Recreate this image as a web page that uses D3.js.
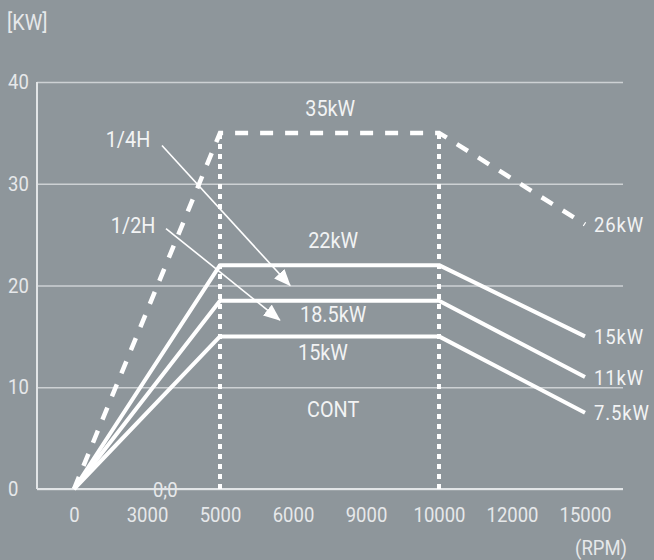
<!DOCTYPE html>
<html>
<head>
<meta charset="utf-8">
<script src="https://cdn.jsdelivr.net/npm/d3@7"></script>
<style>
  html, body { margin: 0; padding: 0; background: #8e969b; }
  svg { display: block; font-family: Roboto, "Liberation Sans", sans-serif; }
  /* the reference uses a condensed face: squeeze Roboto a little */
  text { transform-box: fill-box; transform-origin: center; transform: scaleX(0.88); }
  text.left { transform-origin: left; }
  text.right { transform-origin: right; }
</style>
</head>
<body>
<div id="chart"></div>
<script>
// ─── Data ───
var rpmTicks = ['0', '3000', '5000', '6000', '9000', '10000', '12000', '15000'];
var kwTicks = [0, 10, 20, 30, 40];

// power curves: [rpm, kW]
var peakRpm = ['0', '5000', '10000', '15000'];
var peak35 = [0, 35, 35, 26];
var quarterH = [0, 22, 22, 15];
var halfH = [0, 18.5, 18.5, 11];
var contPow = [0, 15, 15, 7.5];

var limitRpm = ['5000', '10000'];
var limitKw = 35;

var endLabels = ['26kW', '15kW', '11kW', '7.5kW'];
var flatLabels = ['35kW', '22kW', '18.5kW', '15kW', 'CONT'];

// ─── Chart ───
var W = 654, H = 560;
var pLeft = 37, pRight = 623, pTop = 82, pBottom = 489;
var C = { bg: '#8e969b', grid: '#cdd1d4', axis: '#e2e5e7', line: '#ffffff', text: '#f2f3f4', tick: '#e6e8ea' };
var FS = '21px', FA = '22.5px';

var svg = d3.select('#chart').append('svg').attr('width', W).attr('height', H);
svg.append('rect').attr('width', W).attr('height', H).attr('fill', C.bg);

var x = d3.scalePoint().domain(rpmTicks).range([74, 585]);
var y = d3.scaleLinear().domain([0, 40]).range([pBottom, pTop]);
// position between categories, for annotations
function xAt(i) { return x.range()[0] + i * x.step(); }

// y grid + labels
var gy = svg.append('g').attr('transform', 'translate(' + pLeft + ',0)')
  .call(d3.axisLeft(y).tickValues(kwTicks).tickSize(-(pRight - pLeft)).tickFormat(d3.format('d')));
gy.select('.domain').remove();
gy.selectAll('.tick line').attr('stroke', C.grid).attr('stroke-width', 1.5);
gy.selectAll('.tick text').attr('class', 'left').attr('x', 8 - pLeft).attr('text-anchor', 'start').attr('fill', C.tick)
  .attr('font-size', FS).attr('font-family', 'Roboto');

// x labels
var gx = svg.append('g').attr('transform', 'translate(0,' + pBottom + ')')
  .call(d3.axisBottom(x).tickSize(0).tickPadding(18));
gx.select('.domain').remove();
gx.selectAll('.tick text').attr('fill', C.tick).attr('font-size', FS).attr('font-family', 'Roboto');

// axis lines
svg.append('line').attr('x1', pLeft).attr('x2', pLeft).attr('y1', pTop).attr('y2', pBottom)
  .attr('stroke', C.axis).attr('stroke-width', 2);
svg.append('line').attr('x1', pLeft).attr('x2', pRight).attr('y1', pBottom).attr('y2', pBottom)
  .attr('stroke', C.axis).attr('stroke-width', 2);

// unit labels
svg.append('text').attr('class', 'left').attr('x', 7).attr('y', 30).text('[KW]').attr('fill', C.tick).attr('font-size', FA);
svg.append('text').attr('class', 'right').attr('x', 627).attr('y', 555).attr('text-anchor', 'end').text('(RPM)')
  .attr('fill', C.tick).attr('font-size', FS);
svg.append('text').attr('x', xAt(1.25)).attr('y', pBottom + 8).attr('text-anchor', 'middle').text('0;0')
  .attr('fill', C.tick).attr('font-size', FS);

// vertical limits (dotted)
limitRpm.forEach(function(r) {
  svg.append('line').attr('x1', x(r)).attr('x2', x(r)).attr('y1', y(0)).attr('y2', y(limitKw))
    .attr('stroke', C.line).attr('stroke-width', 4).attr('stroke-dasharray', '5,5');
});

var line = d3.line().x(function(d) { return x(d[0]); }).y(function(d) { return y(d[1]); });
function pts(vals) { return vals.map(function(v, i) { return [peakRpm[i], v]; }); }

// 35kW peak (dashed)
svg.append('path').attr('d', line(pts(peak35))).attr('fill', 'none').attr('stroke', C.line)
  .attr('stroke-width', 4.5).attr('stroke-dasharray', '13,12');

// solid curves
[quarterH, halfH, contPow].forEach(function(s) {
  svg.append('path').attr('d', line(pts(s))).attr('fill', 'none').attr('stroke', C.line)
    .attr('stroke-width', 4).attr('stroke-linejoin', 'round');
});

// end labels
[peak35, quarterH, halfH, contPow].forEach(function(s, i) {
  svg.append('text').attr('class', 'left').attr('x', x('15000') + 9).attr('y', y(s[3])).attr('dy', '0.36em')
    .text(endLabels[i]).attr('fill', C.text).attr('font-size', FS).attr('letter-spacing', '1px');
});

// flat segment labels
var flatPos = [[3.51, 36.7], [3.55, 23.65], [3.55, 16.4], [3.41, 12.66], [3.55, 7.07]];
flatLabels.forEach(function(t, i) {
  svg.append('text').attr('x', xAt(flatPos[i][0])).attr('y', y(flatPos[i][1])).attr('text-anchor', 'middle')
    .text(t).attr('fill', C.text).attr('font-size', FA);
});

// arrows
svg.append('defs').append('marker').attr('id', 'arr').attr('markerUnits', 'userSpaceOnUse')
  .attr('markerWidth', 18).attr('markerHeight', 14).attr('refX', 16).attr('refY', 7).attr('orient', 'auto')
  .append('path').attr('d', 'M0,0 L17,7 L0,14 Z').attr('fill', C.line);

var notes = [
  { text: '1/4H', tx: 0.74, ty: 33.6, from: [1.205, 33.76], to: [2.96, 20.0] },
  { text: '1/2H', tx: 0.81, ty: 25.2, from: [1.26, 25.6], to: [2.82, 16.6] }
];
notes.forEach(function(n) {
  svg.append('text').attr('x', xAt(n.tx)).attr('y', y(n.ty)).attr('text-anchor', 'middle')
    .text(n.text).attr('fill', C.text).attr('font-size', FA);
  svg.append('line').attr('x1', xAt(n.from[0])).attr('y1', y(n.from[1]))
    .attr('x2', xAt(n.to[0])).attr('y2', y(n.to[1]))
    .attr('stroke', C.line).attr('stroke-width', 1.6).attr('marker-end', 'url(#arr)');
});
</script>
</body>
</html>
